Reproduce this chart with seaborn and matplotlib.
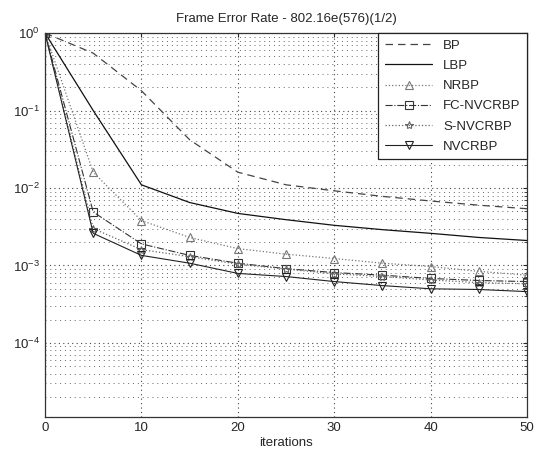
import numpy as np
import pandas as pd
import matplotlib
matplotlib.use('Agg')
import matplotlib.pyplot as plt
import seaborn as sns
from matplotlib.ticker import LogLocator, FixedLocator

# data (frame error rate vs decoder iterations)
iterations = [0, 5, 10, 15, 20, 25, 30, 35, 40, 45, 50]
bp = [1.0, 0.55, 0.18, 0.042, 0.016, 0.011, 0.0092, 0.0078, 0.0068, 0.006, 0.0054]
lbp = [1.0, 0.1, 0.011, 0.0065, 0.0047, 0.0039, 0.0033, 0.0029, 0.0026, 0.0023, 0.0021]
nrbp = [1.0, 0.016, 0.0038, 0.0023, 0.00165, 0.0014, 0.00123, 0.00107, 0.00097, 0.00084, 0.00075]
fc_nvcrbp = [1.0, 0.0049, 0.0019, 0.00135, 0.00107, 0.00091, 0.00081, 0.00075, 0.00068, 0.00064, 0.00062]
s_nvcrbp = [1.0, 0.003, 0.0016, 0.0013, 0.00104, 0.0009, 0.00078, 0.00072, 0.00065, 0.0006, 0.00058]
nvcrbp = [1.0, 0.0026, 0.00135, 0.00107, 0.00079, 0.00072, 0.00062, 0.00055, 0.0005, 0.00049, 0.00046]

series_names = ['BP', 'LBP', 'NRBP', 'FC-NVCRBP', 'S-NVCRBP', 'NVCRBP']
series_vals = [bp, lbp, nrbp, fc_nvcrbp, s_nvcrbp, nvcrbp]

sns.set_style('white')
plt.rcParams['font.family'] = ['Liberation Sans', 'DejaVu Sans']
plt.rcParams['mathtext.fontset'] = 'custom'
plt.rcParams['mathtext.rm'] = 'Liberation Sans'

df = pd.DataFrame({'iter': iterations * len(series_names),
                   'fer': sum(series_vals, []),
                   'scheme': np.repeat(series_names, len(iterations))})

# (colour, linestyle, marker, linewidth)
styles = {'BP': ('#444444', (0, (6, 4)), None, 0.9),
          'LBP': ('#111111', '-', None, 0.9),
          'NRBP': ('#777777', ':', '^', 0.9),
          'FC-NVCRBP': ('#333333', '-.', 's', 0.8),
          'S-NVCRBP': ('#666666', ':', '*', 0.9),
          'NVCRBP': ('#222222', '-', 'v', 0.8)}

fig = plt.figure(figsize=(5.49, 4.53), dpi=100)
ax = fig.add_axes([0.082, 0.079, 0.878, 0.848])

for name in series_names:
    c, ls, mk, lw = styles[name]
    sns.lineplot(data=df[df.scheme == name], x='iter', y='fer', ax=ax,
                 color=c, linestyle=ls, linewidth=lw, marker=mk,
                 markersize=6, markerfacecolor='none', markeredgecolor=c,
                 markeredgewidth=0.8, label=name)

ax.set_yscale('log')
ax.set_xlim(0, 50)
ax.set_ylim(1.1e-5, 1)
ax.xaxis.set_major_locator(FixedLocator([0, 10, 20, 30, 40, 50]))
ax.yaxis.set_major_locator(LogLocator(base=10, numticks=10))
ax.yaxis.set_minor_locator(LogLocator(base=10, subs=np.arange(2, 10), numticks=20))
ax.grid(True, which='major', linestyle=(0, (1, 3)), color='#444444', linewidth=0.8)
ax.grid(True, which='minor', axis='y', linestyle=(0, (1, 4)), color='#666666', linewidth=0.7)
ax.tick_params(direction='in', which='both', length=3, labelsize=9.5,
               top=True, right=True)
ax.tick_params(which='minor', length=2)
for sp in ax.spines.values():
    sp.set_color('#333333')
    sp.set_linewidth(0.9)

ax.set_xlabel('iterations', fontsize=9.5, labelpad=2)
ax.set_ylabel('')
ax.set_title('Frame Error Rate - 802.16e(576)(1/2)', fontsize=9.5, pad=8)

leg = ax.legend(loc='upper right', borderaxespad=0, fontsize=9.5,
                handlelength=3.6, fancybox=False, framealpha=1,
                edgecolor='#222222', labelspacing=0.6, borderpad=0.5)
leg.get_frame().set_linewidth(0.9)

fig.savefig('out.png', dpi=100)
